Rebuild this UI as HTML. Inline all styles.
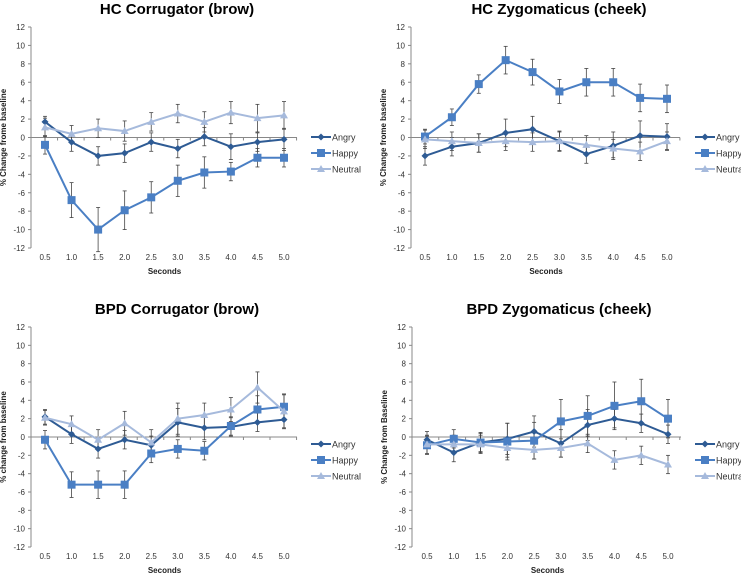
<!DOCTYPE html>
<html><head><meta charset="utf-8"><style>
body{margin:0;background:#fff;font-family:"Liberation Sans",Arial,sans-serif}
svg{display:block}
</style></head><body>
<svg id="c" width="741" height="576"></svg>
<script>
const xCats=["0.5","1.0","1.5","2.0","2.5","3.0","3.5","4.0","4.5","5.0"];
const yTicks=[12,10,8,6,4,2,0,-2,-4,-6,-8,-10,-12];
const seriesNames=["Angry","Happy","Neutral"];
const titles=["HC Corrugator (brow)","HC Zygomaticus (cheek)","BPD Corrugator (brow)","BPD Zygomaticus (cheek)"];
const yTitles=["% Change frome baseline","% Change frome baseline","% change from baseline","% Change from Baseline"];
const p1Angry=[1.7,-0.5,-2.0,-1.7,-0.5,-1.2,0.1,-1.0,-0.5,-0.2];
const p1AngryErr=[0.6,1.0,1.0,1.0,1.0,1.0,1.0,1.4,1.0,1.2];
const p1Happy=[-0.8,-6.8,-10,-7.9,-6.5,-4.7,-3.8,-3.7,-2.2,-2.2];
const p1HappyErr=[1.0,1.9,2.4,2.1,1.7,1.7,1.7,1.0,1.0,1.0];
const p1Neutral=[1.1,0.4,1.0,0.7,1.7,2.6,1.7,2.7,2.1,2.4];
const p1NeutralErr=[1.0,0.9,1.0,1.1,1.0,1.0,1.1,1.2,1.5,1.5];
const p2Angry=[-2.0,-1.0,-0.6,0.5,0.9,-0.4,-1.8,-0.9,0.2,0.1];
const p2AngryErr=[1.0,1.0,1.0,1.5,1.4,1.1,1.0,1.5,1.6,1.4];
const p2Happy=[0.1,2.2,5.8,8.4,7.1,5.0,6.0,6.0,4.3,4.2];
const p2HappyErr=[0.8,0.9,1.0,1.5,1.4,1.3,1.5,1.5,1.5,1.5];
const p2Neutral=[-0.2,-0.4,-0.6,-0.4,-0.5,-0.4,-0.8,-1.2,-1.5,-0.4];
const p2NeutralErr=[1.0,1.0,1.0,1.0,1.0,1.0,1.0,1.0,1.0,1.0];
const p3Angry=[2.2,0.3,-1.3,-0.3,-0.9,1.6,1.0,1.1,1.6,1.9];
const p3AngryErr=[0.8,1.0,1.0,1.0,1.0,1.5,1.3,1.0,1.0,1.0];
const p3Happy=[-0.3,-5.2,-5.2,-5.2,-1.8,-1.3,-1.5,1.2,3.0,3.3];
const p3HappyErr=[1.0,1.4,1.5,1.5,1.0,1.0,1.0,1.0,1.5,1.4];
const p3Neutral=[2.1,1.4,-0.3,1.5,-0.6,2.0,2.4,3.0,5.4,2.8];
const p3NeutralErr=[0.8,0.9,1.1,1.3,1.4,1.7,1.3,1.3,1.7,1.8];
const p4Angry=[-0.3,-1.7,-0.6,-0.2,0.6,-0.7,1.3,2.0,1.5,0.3];
const p4AngryErr=[0.9,1.0,1.0,1.7,1.7,1.5,1.7,1.0,1.0,1.0];
const p4Happy=[-0.9,-0.2,-0.6,-0.5,-0.4,1.7,2.3,3.4,3.9,2.0];
const p4HappyErr=[1.0,1.0,1.1,2.0,2.0,2.4,2.2,2.6,2.4,2.1];
const p4Neutral=[-0.8,-0.8,-0.8,-1.2,-1.4,-1.2,-0.7,-2.5,-2.0,-3.0];
const p4NeutralErr=[1.0,1.0,1.0,1.0,1.0,1.0,1.0,1.0,1.0,1.0];

const panelData=[[p1Angry,p1Happy,p1Neutral],[p2Angry,p2Happy,p2Neutral],[p3Angry,p3Happy,p3Neutral],[p4Angry,p4Happy,p4Neutral]];
const panelErr=[[p1AngryErr,p1HappyErr,p1NeutralErr],[p2AngryErr,p2HappyErr,p2NeutralErr],[p3AngryErr,p3HappyErr,p3NeutralErr],[p4AngryErr,p4HappyErr,p4NeutralErr]];
const layouts=[
 {ax:31,x0:45,x1:284,axEnd:297,yTop:27,yBot:248,tx:177,ty:14,legX:311},
 {ax:411,x0:425,x1:667,axEnd:680,yTop:27,yBot:248,tx:559,ty:14,legX:695},
 {ax:31,x0:45,x1:284,axEnd:297,yTop:327,yBot:547,tx:177,ty:314,legX:311},
 {ax:412,x0:427,x1:668,axEnd:681,yTop:327,yBot:547,tx:559,ty:314,legX:695}
];
const colors=["#2e5b94","#4a7fc4","#a6badc"];
const NS="http://www.w3.org/2000/svg";
const svg=document.getElementById('c');
function mk(tag,attrs,parent,text){const e=document.createElementNS(NS,tag);for(const k in attrs)e.setAttribute(k,attrs[k]);if(text!==undefined)e.textContent=text;(parent||svg).appendChild(e);return e;}
layouts.forEach((L,pi)=>{
 const g=mk('g',{});
 
 
 const ys=v=>L.yTop+(12-v)/24*(L.yBot-L.yTop);
 const xs=i=>L.x0+i*(L.x1-L.x0)/(xCats.length-1);
 const t=mk('text',{x:L.tx,y:L.ty,'text-anchor':'middle','font-size':15,'font-weight':'bold',fill:'#000'},g,titles[pi]);
 
 
 mk('line',{x1:L.ax,y1:L.yTop,x2:L.ax,y2:L.yBot,stroke:'#888','stroke-width':1},g);
 yTicks.forEach(v=>{const y=ys(v);mk('line',{x1:L.ax-3,y1:y,x2:L.ax,y2:y,stroke:'#888'},g);
  const tl=mk('text',{x:L.ax-6,y:y+3,'text-anchor':'end','font-size':8,fill:'#333'},g,String(v));
  
  });
 const y0=ys(0);
 mk('line',{x1:L.ax,y1:y0,x2:L.axEnd,y2:y0,stroke:'#888'},g);
 const step=(L.x1-L.x0)/(xCats.length-1);
 for(let i=0;i<=xCats.length;i++){const x=L.ax+i*step;mk('line',{x1:x,y1:y0,x2:x,y2:y0+3,stroke:'#888'},g);}
 xCats.forEach((c,i)=>{const tl=mk('text',{x:xs(i),y:L.yBot+12,'text-anchor':'middle','font-size':8,fill:'#333'},g,c);
  
  });
 const xt=mk('text',{x:(L.x0+L.x1)/2,y:L.yBot+26,'text-anchor':'middle','font-size':8,'font-weight':'bold',fill:'#222'},g,'Seconds');
 
 
 const yc=(L.yTop+L.yBot)/2, yx=L.ax-25;
 const yt=mk('text',{x:yx,y:yc,'text-anchor':'middle','font-size':8,'font-weight':'bold',fill:'#222',transform:`rotate(-90 ${yx} ${yc})`},g,yTitles[pi]);
 
 
 panelData[pi].forEach((vals,si)=>{
  const errs=panelErr[pi][si];
  vals.forEach((v,i)=>{const x=xs(i),a=ys(v+errs[i]),b=ys(v-errs[i]);
   mk('line',{x1:x,y1:a,x2:x,y2:b,stroke:'#444','stroke-width':0.8},g);
   mk('line',{x1:x-2,y1:a,x2:x+2,y2:a,stroke:'#444','stroke-width':0.8},g);
   mk('line',{x1:x-2,y1:b,x2:x+2,y2:b,stroke:'#444','stroke-width':0.8},g);});
 });
 panelData[pi].forEach((vals,si)=>{
  const p=mk('polyline',{points:vals.map((v,i)=>xs(i)+','+ys(v)).join(' '),fill:'none',stroke:colors[si],'stroke-width':2},g);
  
  
  vals.forEach((v,i)=>marker(g,si,xs(i),ys(v)));
 });
 seriesNames.forEach((n,si)=>{
  const ly=(pi<2?137:444)+si*16;
  const lg=mk('g',{},g);
  
  
  mk('line',{x1:L.legX,y1:ly,x2:L.legX+20,y2:ly,stroke:colors[si],'stroke-width':2},lg);
  marker(lg,si,L.legX+10,ly);
  mk('text',{x:L.legX+21,y:ly+3.5,'font-size':9,fill:'#333'},lg,n);
 });
});
function marker(g,si,x,y){
 if(si===0)mk('polygon',{points:`${x},${y-3.5} ${x+3.5},${y} ${x},${y+3.5} ${x-3.5},${y}`,fill:colors[0]},g);
 else if(si===1)mk('rect',{x:x-4,y:y-4,width:8,height:8,fill:colors[1]},g);
 else mk('polygon',{points:`${x},${y-4} ${x+4},${y+3} ${x-4},${y+3}`,fill:colors[2]},g);
}
</script>
</body></html>
